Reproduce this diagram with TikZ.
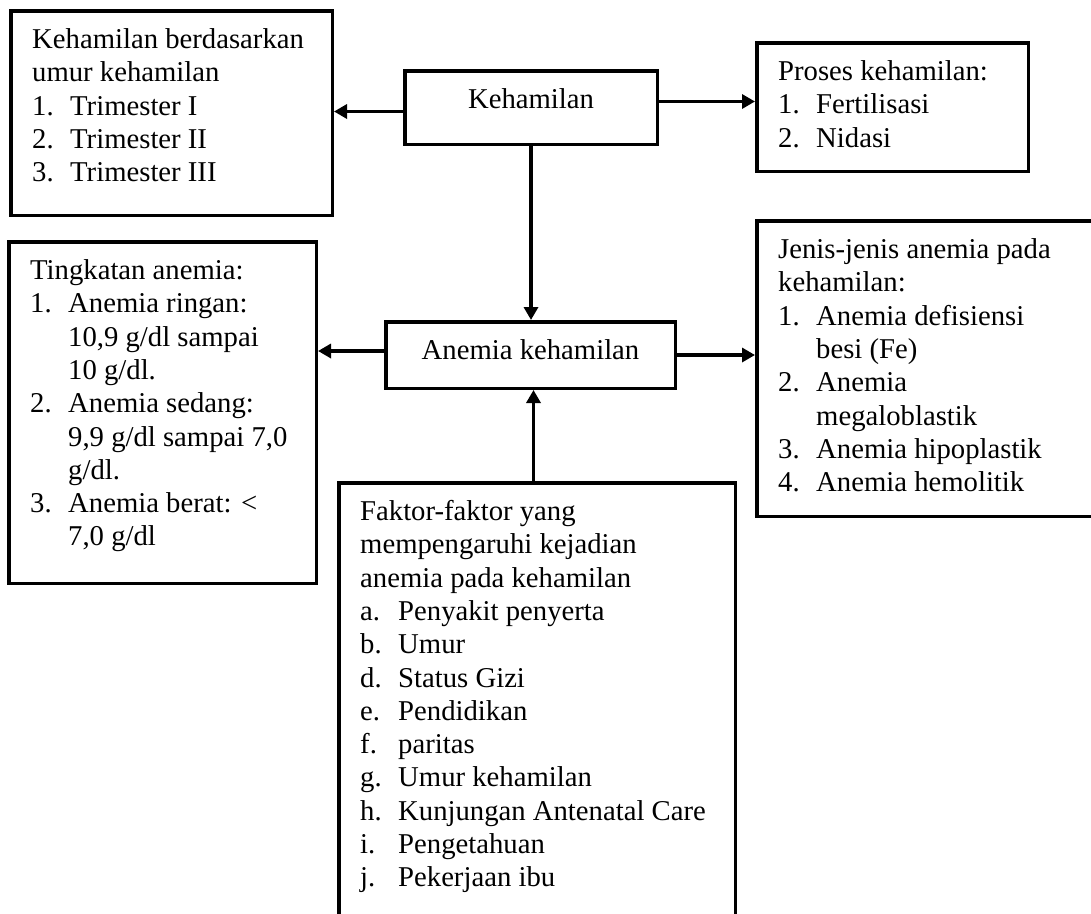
\documentclass[tikz,border=0pt]{standalone}
\usepackage{fontspec}
\setmainfont{Liberation Serif}
\usetikzlibrary{arrows.meta}

% list items with a hanging indent
\newcommand{\li}[2]{\makebox[38pt][l]{#1}#2}
\newcommand{\lc}[1]{\hspace*{38pt}#1}

\begin{document}
\begin{tikzpicture}[x=1pt, y=-1pt]
    % Define styles
    \tikzset{
        box/.style={
            draw,
            line width=3.5pt,
            anchor=north west,
            inner sep=0pt
        },
        txt/.style={
            anchor=north west,
            inner sep=0pt,
            align=left,
            font=\fontsize{28.7}{33.3}\selectfont
        },
        ctxt/.style={
            txt,
            anchor=north,
            align=center
        },
        link/.style={
            line width=3.3pt,
            -{Triangle[length=13pt, width=14pt]}
        }
    }

    \useasboundingbox (0,0) rectangle (1091,913);

    % Boxes
    \node[box, minimum width=321.5pt, minimum height=204.5pt] (tl) at (9,9) {};
    \node[box, minimum width=252.5pt, minimum height=73.5pt] (keh) at (403,69) {};
    \node[box, minimum width=271.5pt, minimum height=128.5pt] (tr) at (755,41) {};
    \node[box, minimum width=307.5pt, minimum height=341.5pt] (lm) at (7,240) {};
    \node[box, minimum width=289.5pt, minimum height=66.5pt] (ane) at (384,320) {};
    \node[box, minimum width=356.5pt, minimum height=295.5pt] (rm) at (755,219) {};
    \node[box, minimum width=396.5pt, minimum height=456pt] (bot) at (337,481) {};

    % Texts
    \node[ctxt] (keh-text) at ([yshift=-16pt]keh.north) {\strut Kehamilan};
    \node[ctxt] (ane-text) at ([yshift=-16pt]ane.north) {\strut Anemia kehamilan};

    \node[txt] (tl-text) at ([shift={(23pt,-16pt)}]tl.north west)
        {\strut Kehamilan berdasarkan\\ umur kehamilan\\
         \li{1.}{Trimester I}\\ \li{2.}{Trimester II}\\ \li{3.}{Trimester III}};

    \node[txt] (tr-text) at ([shift={(23pt,-16pt)}]tr.north west)
        {\strut Proses kehamilan:\\ \li{1.}{Fertilisasi}\\ \li{2.}{Nidasi}};

    \node[txt] (lm-text) at ([shift={(23pt,-16pt)}]lm.north west)
        {\strut Tingkatan anemia:\\
         \li{1.}{Anemia ringan:}\\ \lc{10,9 g/dl sampai}\\ \lc{10 g/dl.}\\
         \li{2.}{Anemia sedang:}\\ \lc{9,9 g/dl sampai 7,0}\\ \lc{g/dl.}\\
         \li{3.}{Anemia berat: <}\\ \lc{7,0 g/dl}};

    \node[txt] (rm-text) at ([shift={(23pt,-16pt)}]rm.north west)
        {\strut Jenis-jenis anemia pada\\ kehamilan:\\
         \li{1.}{Anemia defisiensi}\\ \lc{besi (Fe)}\\
         \li{2.}{Anemia}\\ \lc{megaloblastik}\\
         \li{3.}{Anemia hipoplastik}\\ \li{4.}{Anemia hemolitik}};

    \node[txt] (bot-text) at ([shift={(23pt,-16pt)}]bot.north west)
        {\strut Faktor-faktor yang\\ mempengaruhi kejadian\\ anemia pada kehamilan\\
         \li{a.}{Penyakit penyerta}\\ \li{b.}{Umur}\\ \li{d.}{Status Gizi}\\
         \li{e.}{Pendidikan}\\ \li{f.}{paritas}\\ \li{g.}{Umur kehamilan}\\
         \li{h.}{Kunjungan Antenatal Care}\\ \li{i.}{Pengetahuan}\\
         \li{j.}{Pekerjaan ibu}};

    % Connectors
    \coordinate (keh-l) at ([yshift=-4pt]keh.west);
    \coordinate (keh-r) at ([yshift=6pt]keh.east);
    \coordinate (ane-l) at ([yshift=4pt]ane.west);
    \coordinate (ane-b) at ([xshift=3pt]ane.south);
    \draw[link] (keh-l) -- (keh-l -| tl.east);
    \draw[link] (keh-r) -- (keh-r -| tr.west);
    \draw[link] (keh.south) -- (keh.south |- ane.north);
    \draw[link] (ane-l) -- (ane-l -| lm.east);
    \draw[link] (ane.east) -- (ane.east -| rm.west);
    \draw[link] (ane-b |- bot.north) -- (ane-b);

\end{tikzpicture}
\end{document}
